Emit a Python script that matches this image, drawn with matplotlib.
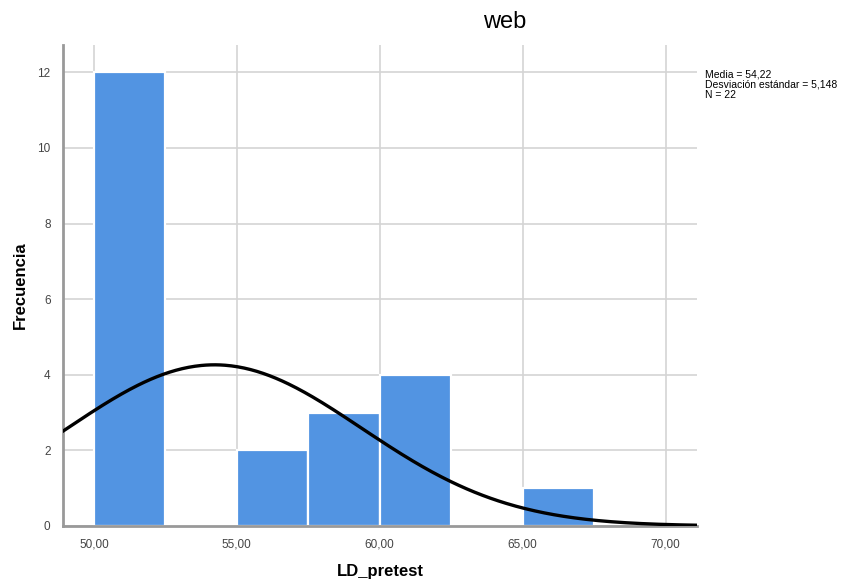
import numpy as np
import matplotlib.pyplot as plt

# histogram of LD_pretest (group "web")
bin_starts = [50.0, 52.5, 55.0, 57.5, 60.0, 62.5, 65.0]
counts = [12, 0, 2, 3, 4, 0, 1]
bin_width = 2.5

media = 54.22
desv = 5.148
n = 22

x_ticks = [50, 55, 60, 65, 70]
y_ticks = [0, 2, 4, 6, 8, 10, 12]

BAR = "#5294e2"
GRID = "#d4d4d4"
SPINE = "#999999"

plt.rcParams["font.family"] = ["Liberation Sans", "DejaVu Sans"]


def fmt(v):
    return f"{v:.2f}".replace(".", ",")


def main():
    fig = plt.figure(figsize=(8.62, 5.85), dpi=100)
    ax = fig.add_axes([0.0731, 0.1009, 0.7355, 0.8221])

    ax.bar(bin_starts, counts, width=bin_width, align="edge",
           color=BAR, edgecolor="white", linewidth=1.6, zorder=2)

    xmin, xmax = 48.92, 71.1
    xs = np.linspace(xmin, xmax, 400)
    ys = n * bin_width / (desv * np.sqrt(2 * np.pi)) * np.exp(-0.5 * ((xs - media) / desv) ** 2)
    ax.plot(xs, ys, color="black", lw=2.4, zorder=3)

    ax.set_xlim(xmin, xmax)
    ax.set_ylim(0, 12.72)
    ax.set_xticks(x_ticks)
    ax.set_xticklabels([fmt(v) for v in x_ticks])
    ax.set_yticks(y_ticks)
    ax.set_yticklabels([str(v) for v in y_ticks])
    ax.tick_params(length=0, labelsize=8.5, colors="#444444", pad=9)

    ax.grid(True, color=GRID, lw=1.2, zorder=0)
    ax.set_axisbelow(True)
    for s in ("top", "right"):
        ax.spines[s].set_visible(False)
    for s in ("left", "bottom"):
        ax.spines[s].set_color(SPINE)
        ax.spines[s].set_linewidth(2.0)

    ax.set_xlabel("LD_pretest", fontsize=12, fontweight="bold", labelpad=10)
    ax.set_ylabel("Frecuencia", fontsize=12, fontweight="bold", labelpad=7)

    fig.text(0.586, 0.962, "web", fontsize=17, ha="center", va="center")
    fig.text(0.818, 0.882,
             f"Media = {media:.2f}".replace(".", ",") + "\n"
             f"Desviación estándar = {desv:.3f}".replace(".", ",") + "\n"
             f"N = {n}",
             fontsize=7.5, va="top", ha="left", linespacing=1.05)

    fig.savefig("out.png", dpi=100)
    plt.close(fig)


if __name__ == "__main__":
    main()
